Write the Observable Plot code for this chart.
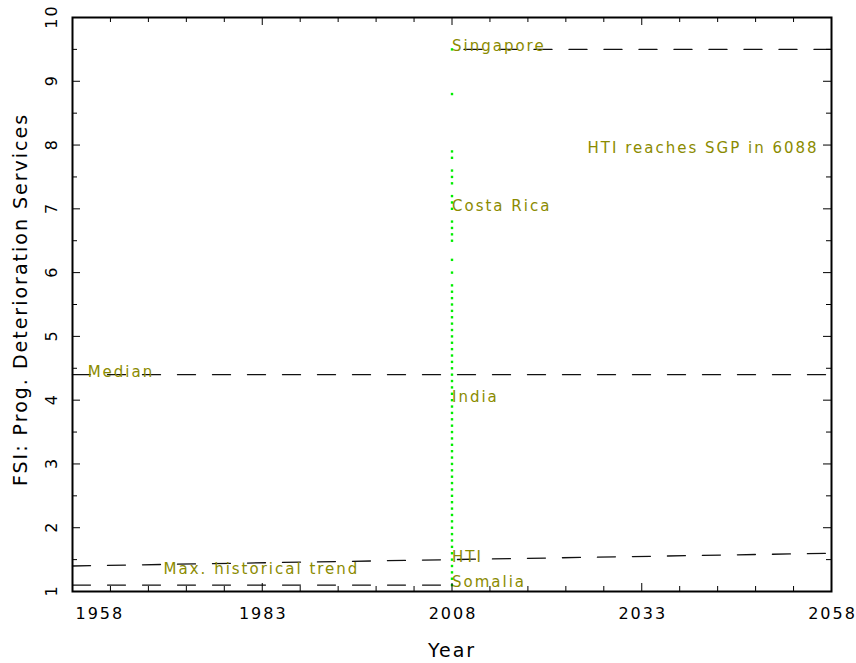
<!DOCTYPE html>
<html><head><meta charset="utf-8">
<script src="https://cdn.jsdelivr.net/npm/d3@7"></script>
<script src="https://cdn.jsdelivr.net/npm/@observablehq/plot@0.6"></script>
<style>
html,body{margin:0;padding:0;background:#fff;}
#chart svg{display:block;}
</style></head><body><div id="chart"></div>
<script>
// ---- data ----
const xTickYears = [1958, 1983, 2008, 2033, 2058];
const xMinorYears = [1963, 1968, 1973, 1978, 1988, 1993, 1998, 2003, 2013, 2018, 2023, 2028, 2038, 2043, 2048, 2053];
const yTickValues = [1, 2, 3, 4, 5, 6, 7, 8, 9, 10];
const yMinorValues = [1.5, 2.5, 3.5, 4.5, 5.5, 6.5, 7.5, 8.5, 9.5];

const medianYears = [1958, 2058];
const medianFSI = [4.4, 4.4];
const trendYears = [1958, 2058];
const trendFSI = [1.4, 1.6];
const singaporeYears = [2008, 2058];
const singaporeFSI = [9.5, 9.5];
const somaliaYears = [1958, 2008];
const somaliaFSI = [1.1, 1.1];

const markerYear = 2008;
const countryFSI2008 = [9.5, 8.8, 7.9, 7.8, 7.6, 7.5, 7.4, 7.2, 7.1, 7.0, 6.8, 6.7, 6.6, 6.5, 6.2, 6.0,
  5.8, 5.7, 5.6, 5.5, 5.4, 5.3, 5.2, 5.1, 5.0, 4.9, 4.8, 4.7, 4.6, 4.5, 4.4, 4.3, 4.2, 4.1, 4.0,
  3.9, 3.8, 3.7, 3.6, 3.5, 3.4, 3.3, 3.2, 3.1, 3.0, 2.9, 2.8, 2.7, 2.6, 2.5, 2.4, 2.3, 2.2, 2.1, 2.0,
  1.9, 1.8, 1.7, 1.6, 1.5, 1.4, 1.3, 1.2, 1.1];

const labelNames = ["Median", "Max. historical trend", "Singapore", "Costa Rica", "India", "HTI", "Somalia"];
const labelYears = [1960, 1970, 2008, 2008, 2008, 2008, 2008];
const labelFSI = [4.4, 1.3, 9.5, 7.0, 4.0, 1.5, 1.1];
const noteText = "HTI reaches SGP in 6088";
const noteYear = 2056.3;
const noteFSI = 7.9;

const xTitle = "Year";
const yTitle = "FSI: Prog. Deterioration Services";

// ---- layout / style ----
const W = 856, H = 663;
const mL = 72, mR = 25, mT = 17, mB = 72;
const pw = W - mL - mR, ph = H - mT - mB;
const olive = "#8b8b00";
const ink = "#111";
const dash = "18,17";
const pts = (xs, ys) => xs.map((x, i) => ({x, y: ys[i]}));

const chart = Plot.plot({
  width: W, height: H,
  marginLeft: mL, marginRight: mR, marginTop: mT, marginBottom: mB,
  x: {domain: [1958, 2058], axis: null},
  y: {domain: [1, 10], axis: null},
  style: {fontFamily: "'DejaVu Sans', sans-serif", fontSize: "15px", letterSpacing: "2px", background: "white", color: "black"},
  marks: [
    Plot.line(pts(medianYears, medianFSI), {x: "x", y: "y", stroke: ink, strokeWidth: 1.3, strokeDasharray: dash}),
    Plot.line(pts(trendYears, trendFSI), {x: "x", y: "y", stroke: ink, strokeWidth: 1.3, strokeDasharray: dash}),
    Plot.line(pts(singaporeYears, singaporeFSI), {x: "x", y: "y", stroke: ink, strokeWidth: 1.3, strokeDasharray: dash, strokeDashoffset: 23}),
    Plot.line(pts(somaliaYears, somaliaFSI), {x: "x", y: "y", stroke: ink, strokeWidth: 1.3, strokeDasharray: dash}),
    Plot.dot(countryFSI2008, {x: () => markerYear, y: d => d, symbol: "square", r: 1.35, fill: "#00ee00", stroke: null}),
    Plot.text(labelNames, {x: (d, i) => labelYears[i], y: (d, i) => labelFSI[i], text: d => d, textAnchor: "start", lineAnchor: "bottom", dy: 2, fill: olive, fontSize: 15}),
    Plot.text([noteText], {x: () => noteYear, y: () => noteFSI, text: d => d, textAnchor: "end", lineAnchor: "bottom", dy: 2, fill: olive, fontSize: 15}),
    // ticks (inside the frame)
    Plot.tickX(xTickYears, {x: d => d, insetTop: ph - 8, stroke: "#000"}),
    Plot.tickX(xMinorYears, {x: d => d, insetTop: ph - 5, stroke: "#000"}),
    Plot.tickX(xTickYears, {x: d => d, insetBottom: ph - 8, stroke: "#000"}),
    Plot.tickX(xMinorYears, {x: d => d, insetBottom: ph - 5, stroke: "#000"}),
    Plot.tickY(yTickValues, {y: d => d, insetRight: pw - 8, stroke: "#000"}),
    Plot.tickY(yMinorValues, {y: d => d, insetRight: pw - 5, stroke: "#000"}),
    Plot.tickY(yTickValues, {y: d => d, insetLeft: pw - 8, stroke: "#000"}),
    Plot.tickY(yMinorValues, {y: d => d, insetLeft: pw - 5, stroke: "#000"}),
    Plot.frame({stroke: "#000", strokeWidth: 2}),
    // tick labels
    Plot.text(xTickYears.slice(0, 1), {x: d => d, text: d => String(d), frameAnchor: "bottom", lineAnchor: "bottom", textAnchor: "start", dx: 3, dy: 27, fill: "#000", fontSize: 16}),
    Plot.text(xTickYears.slice(1), {x: d => d, text: d => String(d), frameAnchor: "bottom", lineAnchor: "bottom", textAnchor: "middle", dx: 1, dy: 27, fill: "#000", fontSize: 16}),
    Plot.text(yTickValues, {y: d => d, text: d => String(d), frameAnchor: "left", rotate: -90, textAnchor: "middle", lineAnchor: "bottom", dx: -16, dy: -1, fill: "#000", fontSize: 16}),
    // axis titles
    Plot.text([xTitle], {text: d => d, frameAnchor: "bottom", lineAnchor: "bottom", dy: 65, fill: "#000", fontSize: 19, letterSpacing: "2.2px"}),
    Plot.text([yTitle], {text: d => d, frameAnchor: "left", rotate: -90, textAnchor: "middle", lineAnchor: "bottom", dx: -46, dy: -5, fill: "#000", fontSize: 19, letterSpacing: "2.2px"})
  ]
});
document.getElementById("chart").appendChild(chart);
</script>
</body></html>
